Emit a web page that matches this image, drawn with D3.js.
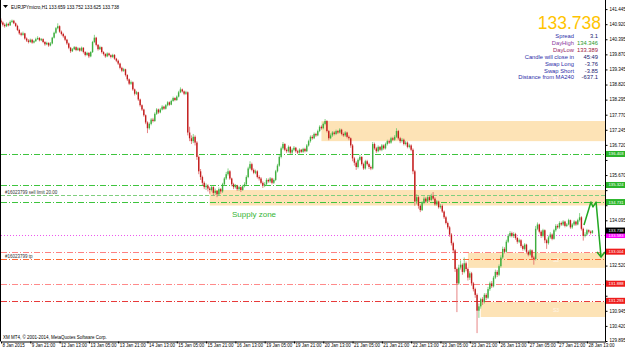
<!DOCTYPE html>
<html><head><meta charset="utf-8">
<script src="https://cdn.jsdelivr.net/npm/d3@7"></script>
<style>html,body{margin:0;padding:0;background:#fff;overflow:hidden}svg{display:block;font-family:"Liberation Sans",Arial,sans-serif}</style>
</head><body><svg id="c" width="625" height="351"></svg>
<script>
const symbolTitle = "EURJPYmicro,H1";
const lastOHLC = ["133.659", "133.752", "133.625", "133.738"];
const copyrightText = "XM MT4, © 2001-2014, MetaQuotes Software Corp.";
const firstOpen = 141.05;
const closePrices = [
140.98,140.90,140.85,140.93,140.88,141.00,141.04,140.95,140.86,140.72,
140.60,140.55,140.60,140.42,140.35,140.30,140.38,140.28,140.33,140.40,
140.44,140.36,140.40,140.30,140.22,140.27,140.18,140.25,140.45,140.62,
140.78,140.85,140.66,140.58,140.50,140.38,140.25,140.10,139.98,140.05,
140.12,140.02,140.08,140.00,140.10,139.95,139.85,139.92,139.80,139.95,
140.30,140.45,140.20,140.05,140.12,139.95,139.88,139.80,139.90,139.84,
139.78,139.85,139.72,139.65,139.55,139.40,139.30,139.35,139.15,139.00,
138.85,138.90,138.65,138.50,138.55,138.30,138.10,137.95,137.75,137.50,
137.30,137.45,137.60,137.55,137.80,137.95,137.85,137.95,138.05,137.98,
138.10,138.20,138.12,138.25,138.35,138.28,138.40,138.55,138.65,138.58,
138.50,138.55,137.15,136.95,136.85,137.00,136.80,136.30,135.80,135.60,
135.40,135.25,135.30,135.20,135.15,135.25,135.05,135.12,135.00,135.18,
135.10,135.35,135.55,135.70,135.80,135.55,135.35,135.25,135.30,135.18,
135.25,135.15,135.28,135.35,135.60,135.90,136.05,135.85,135.75,135.80,
135.60,135.55,135.40,135.30,135.35,135.50,135.45,135.55,135.40,135.50,
135.80,136.00,136.30,136.60,136.75,136.55,136.50,136.65,136.45,136.55,
136.62,136.50,136.45,136.55,136.48,136.58,136.50,136.70,136.85,137.00,
136.95,137.10,137.05,137.20,137.35,137.30,137.45,137.55,137.20,136.95,
137.05,137.15,137.10,137.20,137.15,137.25,137.10,137.05,137.15,137.00,
136.95,136.70,136.25,136.10,135.95,136.20,136.30,136.05,135.90,136.15,
136.05,135.95,135.90,136.75,136.60,136.50,136.65,136.55,136.70,136.60,
136.75,136.85,136.80,136.95,136.90,137.00,137.20,136.95,136.85,136.90,
136.75,136.80,136.65,136.70,136.55,135.80,134.75,134.90,134.60,134.45,
134.70,134.85,134.75,134.90,134.80,134.95,134.85,134.65,134.75,134.55,
134.60,134.40,134.20,134.00,133.85,133.60,133.30,133.05,132.40,131.90,
132.45,132.55,132.30,132.60,132.40,132.10,132.25,131.90,131.70,131.50,
130.95,131.10,131.35,131.25,131.50,131.40,131.70,131.90,131.80,132.10,
132.30,132.20,132.50,132.80,133.10,133.00,133.35,133.55,133.65,133.55,
133.62,133.48,133.35,133.40,133.20,133.10,133.25,133.00,132.90,133.05,
132.80,132.75,133.80,133.95,133.70,133.55,133.75,133.40,133.30,133.50,
133.60,133.45,133.75,133.90,133.85,134.00,133.95,134.05,133.90,133.95,
134.10,133.85,133.95,134.05,133.95,134.10,134.20,133.80,133.55,133.60,
133.75,133.70,133.659,133.738];
const highPrices = [
141.12,141.02,140.95,140.98,140.97,141.05,141.08,141.07,140.98,140.90,
140.76,140.64,140.66,140.62,140.46,140.40,140.42,140.41,140.37,140.45,
140.50,140.47,140.44,140.43,140.33,140.31,140.29,140.30,140.48,140.66,
140.82,140.95,140.88,140.70,140.62,140.53,140.41,140.28,140.13,140.09,
140.16,140.15,140.12,140.11,140.14,140.12,139.98,139.96,139.95,139.98,
140.34,140.55,140.48,140.23,140.17,140.14,139.98,139.91,139.94,139.93,
139.87,139.89,139.88,139.75,139.69,139.58,139.44,139.40,139.37,139.18,
139.03,138.96,138.93,138.68,138.60,138.57,138.33,138.13,137.98,137.78,
137.54,137.50,137.65,137.66,137.85,138.00,137.98,138.00,138.10,138.08,
138.14,138.24,138.23,138.29,138.40,138.38,138.44,138.60,138.72,138.68,
138.61,138.60,138.58,137.35,137.05,137.10,137.05,136.85,136.35,135.88,
135.65,135.45,135.38,135.35,135.26,135.32,135.28,135.20,135.15,135.24,
135.22,135.40,135.60,135.78,135.90,135.84,135.58,135.40,135.36,135.33,
135.30,135.28,135.33,135.42,135.66,135.96,136.15,136.10,135.90,135.86,
135.84,135.66,135.60,135.45,135.42,135.56,135.55,135.60,135.58,135.55,
135.85,136.06,136.36,136.66,136.82,136.78,136.60,136.70,136.68,136.60,
136.68,136.65,136.55,136.60,136.58,136.62,136.62,136.75,136.90,137.05,
137.06,137.15,137.14,137.25,137.40,137.40,137.50,137.62,137.58,137.24,
137.12,137.20,137.20,137.25,137.24,137.30,137.28,137.15,137.20,137.18,
137.05,136.98,136.75,136.30,136.15,136.25,136.38,136.33,136.10,136.20,
136.20,136.10,136.00,136.82,136.80,136.65,136.70,136.68,136.75,136.74,
136.80,136.90,136.90,137.00,137.00,137.06,137.30,137.24,137.00,136.96,
136.94,136.86,136.84,136.76,136.74,136.60,135.85,135.00,134.95,134.65,
134.76,134.92,134.90,134.96,134.95,135.02,135.08,134.90,134.80,134.78,
134.66,134.65,134.44,134.25,134.05,133.90,133.65,133.35,133.10,132.45,
132.55,132.70,132.60,132.80,132.66,132.45,132.32,132.30,131.95,131.75,
131.55,131.20,131.40,131.42,131.56,131.56,131.78,131.96,131.98,132.16,
132.38,132.36,132.56,132.88,133.18,133.16,133.42,133.62,133.72,133.70,
133.68,133.66,133.52,133.46,133.44,133.25,133.30,133.28,133.05,133.10,
133.08,132.86,133.90,134.02,133.98,133.75,133.80,133.78,133.45,133.56,
133.68,133.64,133.80,133.96,133.96,134.06,134.05,134.10,134.08,134.00,
134.15,134.12,134.00,134.10,134.08,134.15,134.346,134.24,133.84,133.68,
133.80,133.78,133.74,133.752];
const lowPrices = [
140.93,140.84,140.80,140.82,140.84,140.86,140.96,140.92,140.82,140.68,
140.55,140.50,140.52,140.38,140.30,140.25,140.27,140.24,140.25,140.30,
140.37,140.32,140.33,140.26,140.17,140.19,140.13,140.15,140.22,140.42,
140.58,140.74,140.62,140.53,140.45,140.33,140.20,140.05,139.92,139.95,
140.02,139.98,139.99,139.96,139.97,139.90,139.80,139.82,139.74,139.77,
139.92,140.26,140.15,140.00,140.02,139.90,139.83,139.75,139.77,139.80,
139.73,139.74,139.68,139.60,139.50,139.35,139.25,139.26,139.10,138.94,
138.80,138.81,138.60,138.44,138.46,138.25,138.05,137.90,137.70,137.44,
137.13,137.25,137.40,137.50,137.52,137.76,137.80,137.82,137.92,137.94,
137.95,138.06,138.08,138.10,138.22,138.24,138.25,138.37,138.52,138.54,
138.45,138.46,137.05,136.85,136.75,136.78,136.70,136.20,135.70,135.50,
135.32,135.18,135.15,135.10,135.02,135.10,134.95,134.98,134.90,134.96,
135.02,135.05,135.30,135.50,135.65,135.50,135.28,135.18,135.20,135.12,
135.12,135.08,135.12,135.24,135.32,135.56,135.86,135.80,135.70,135.70,
135.55,135.48,135.35,135.22,135.25,135.30,135.40,135.40,135.35,135.36,
135.46,135.76,135.96,136.25,136.55,136.50,136.44,136.45,136.40,136.40,
136.50,136.45,136.40,136.42,136.44,136.44,136.46,136.47,136.66,136.80,
136.90,136.92,137.00,137.02,137.16,137.25,137.26,137.40,137.15,136.88,
136.92,137.00,137.05,137.06,137.10,137.12,137.05,137.00,137.00,136.95,
136.88,136.62,136.15,136.00,135.85,135.90,136.15,136.00,135.85,135.86,
136.00,135.88,135.84,135.86,136.55,136.44,136.46,136.50,136.50,136.55,
136.56,136.70,136.75,136.76,136.85,136.86,136.96,136.90,136.78,136.80,
136.70,136.70,136.60,136.60,136.50,135.70,134.60,134.65,134.50,134.38,
134.42,134.66,134.70,134.72,134.74,134.76,134.80,134.60,134.60,134.50,
134.50,134.35,134.14,133.95,133.78,133.52,133.22,132.95,132.30,130.90,
131.85,132.38,132.20,132.25,132.32,132.00,132.02,131.82,131.62,131.40,
130.17,130.70,131.02,131.15,131.20,131.32,131.36,131.64,131.74,131.76,
132.05,132.12,132.15,132.45,132.75,132.94,132.96,133.30,133.50,133.50,
133.48,133.42,133.28,133.30,133.14,133.04,133.05,132.94,132.84,132.86,
132.74,132.55,132.70,133.75,133.64,133.48,133.50,133.30,133.10,133.25,
133.45,133.40,133.42,133.70,133.80,133.80,133.90,133.90,133.85,133.86,
133.92,133.80,133.80,133.90,133.90,133.92,134.05,133.74,133.389,133.50,
133.56,133.64,133.60,133.625];
const timeLabels = ["8 Jan 2015","9 Jan 21:00","12 Jan 13:00","13 Jan 05:00","13 Jan 21:00","14 Jan 13:00","15 Jan 05:00","15 Jan 21:00","16 Jan 13:00","19 Jan 05:00","19 Jan 21:00","20 Jan 13:00","21 Jan 05:00","21 Jan 21:00","22 Jan 13:00","23 Jan 05:00","23 Jan 21:00","26 Jan 13:00","27 Jan 05:00","27 Jan 21:00","28 Jan 13:00"];
const barsPerTimeLabel = 16;
const priceTicks = [129.895,130.420,130.945,131.470,131.995,132.520,133.045,133.570,134.095,134.620,135.145,135.670,136.195,136.720,137.245,137.770,138.295,138.820,139.345,139.870,140.395,140.920,141.445];
const levelPrices = [136.403, 135.324, 134.975, 134.731, 133.583, 133.004, 132.750, 131.888, 131.293];
const levelNotes = ["", "", "#16023799 sell limit 20.00", "", "", "", "#16023799 tp", "", ""];
const bidPrice = 133.738;
const zoneTop = [137.55, 135.15, 132.96, 131.25];
const zoneBottom = [136.85, 134.61, 132.44, 130.73];
const zoneStartBar = [175, 114, 255, 262];
const zoneNames = ["", "S1", "S2", "S3"];
const zoneNamePrice = [137.2, 134.85, 132.7, 130.99];
const supplyLabel = "Supply zone";
const arrowBars = [318.4, 322.2, 323.3, 325.0, 327.7];
const arrowPrices = [133.93, 134.73, 134.56, 134.73, 132.82];
const infoLabels = ["Spread","DayHigh","DayLow","Candle will close in","Swap Long","Swap Short","Distance from MA240"];
const infoValues = ["3.1","134.346","133.389","45:49","-3.76","-3.85","-637.1"];

// ---------- styles (kept apart from the data) ----------
const levelStyle = [
  {c:"#3ec43e", d:"6,2,1,2", box:"#2bb52b"},
  {c:"#3ec43e", d:"6,2,1,2", box:"#2bb52b"},
  {c:"#7fcf7f", d:"4,2", box:null},
  {c:"#3ec43e", d:"6,2,1,2", box:"#2bb52b"},
  {c:"#ee55ee", d:"1,2", box:"#ff00ff"},
  {c:"#ff8080", d:"6,2,1,2", box:"#ee1c1c"},
  {c:"#ff6a33", d:"6,2,1,2", box:null},
  {c:"#ff8a8a", d:"6,2,1,2", box:"#ee1c1c"},
  {c:"#e83a3a", d:"6,2,1,2", box:"#ee1c1c"}
];
const infoLabelColors = ["#2c2ca8","#8a3aa0","#9a2a6a","#2c2ca8","#2c2ca8","#2c2ca8","#2c2ca8"];
const infoValueColors = ["#1a1a70","#2a9a2a","#a02040","#1a1a70","#1a1a70","#1a1a70","#1a1a70"];

const svg = d3.select("#c");
const W = 625, H = 351, axisX = 605.5, axisY = 341.5;
const barStep = 1.831;
const x = d3.scaleLinear().domain([0, (axisX - 1) / barStep]).range([1, axisX]);
const y = d3.scaleLinear().domain([129.895, 141.445]).range([341, 9.1]);
const fmt3 = d3.format(".3f");

svg.append("rect").attr("width", W).attr("height", H).attr("fill", "#fff");

// zones
svg.append("g").selectAll("rect").data(zoneTop).join("rect")
  .attr("x", (d, i) => x(zoneStartBar[i]))
  .attr("y", d => y(d))
  .attr("width", (d, i) => axisX - x(zoneStartBar[i]))
  .attr("height", (d, i) => y(zoneBottom[i]) - y(d))
  .attr("fill", "#fde3b6");
svg.append("g").selectAll("text").data(zoneNames).join("text")
  .attr("x", 553).attr("y", (d, i) => y(zoneNamePrice[i]) + 2)
  .attr("font-size", 5).attr("fill", "#fff6ea").text(d => d);

// level lines
svg.append("g").selectAll("line").data(levelPrices).join("line")
  .attr("x1", 1).attr("x2", axisX)
  .attr("y1", d => Math.round(y(d)) + 0.5).attr("y2", d => Math.round(y(d)) + 0.5)
  .attr("stroke", (d, i) => levelStyle[i].c).attr("stroke-width", 1)
  .attr("stroke-dasharray", (d, i) => levelStyle[i].d);
svg.append("g").selectAll("text").data(levelPrices).join("text")
  .attr("x", 5).attr("y", d => Math.round(y(d)) - 1.5)
  .attr("font-size", 4.5).attr("fill", "#333").text((d, i) => levelNotes[i]);

// candles
const bars = closePrices.map((c, i) => ({
  i, o: i === 0 ? firstOpen : closePrices[i - 1], c, h: highPrices[i], l: lowPrices[i]
}));
const cg = svg.append("g");
cg.selectAll("line").data(bars).join("line")
  .attr("x1", d => x(d.i)).attr("x2", d => x(d.i))
  .attr("y1", d => y(d.h)).attr("y2", d => y(d.l))
  .attr("stroke", d => d.c >= d.o ? "#6cc86c" : "#e06464").attr("stroke-width", 0.8);
cg.selectAll("rect").data(bars).join("rect")
  .attr("x", d => x(d.i) - 0.7).attr("width", 1.4)
  .attr("y", d => y(Math.max(d.o, d.c)))
  .attr("height", d => Math.max(0.8, Math.abs(y(d.o) - y(d.c))))
  .attr("fill", d => d.c >= d.o ? "#3fae3f" : "#c21d1d");

// supply zone text
svg.append("text").attr("x", 232).attr("y", 217).attr("font-size", 8)
  .attr("fill", "#35b535").text(supplyLabel);

// green arrow
const arrowPts = arrowBars.map((b, i) => [x(b), y(arrowPrices[i])]);
svg.append("path").attr("d", d3.line()(arrowPts)).attr("fill", "none")
  .attr("stroke", "#22a822").attr("stroke-width", 1.5).attr("stroke-linejoin", "round");
const end = arrowPts[arrowPts.length - 1];
svg.append("path").attr("d", d3.line()([[end[0] - 4, end[1] - 5], end, [end[0] + 4, end[1] - 5]]))
  .attr("fill", "none").attr("stroke", "#22a822").attr("stroke-width", 1.5);

// frame
svg.append("line").attr("x1", 0.5).attr("x2", 0.5).attr("y1", 0).attr("y2", axisY).attr("stroke", "#000");

// right-side price boxes (data)
const boxes = levelPrices.map((p, i) => ({p, col: levelStyle[i].box})).filter(d => d.col);
boxes.push({p: bidPrice, col: "#000"});

// right axis (tick labels hidden where a price box covers them)
const ra = svg.append("g").attr("transform", `translate(${axisX},0)`)
  .call(d3.axisRight(y).tickValues(priceTicks).tickSize(2).tickPadding(2).tickFormat(fmt3));
ra.select(".domain").remove();
ra.selectAll(".tick text")
  .attr("font-size", 4.5).attr("font-family", "Liberation Sans, Arial, sans-serif").attr("fill", "#000")
  .attr("dy", "0.3em")
  .attr("display", d => boxes.some(b => Math.abs(y(b.p) - y(d)) < 6) ? "none" : null);
ra.selectAll(".tick text").filter(d => d === priceTicks[0]).attr("dy", "0.05em");
svg.append("line").attr("x1", axisX).attr("x2", axisX).attr("y1", 0).attr("y2", axisY).attr("stroke", "#000");

// bottom axis
const tickBars = timeLabels.map((t, k) => k * barsPerTimeLabel);
const ba = svg.append("g").attr("transform", `translate(0,${axisY})`)
  .call(d3.axisBottom(x).tickValues(tickBars).tickSize(2).tickSizeOuter(0).tickFormat((d, k) => timeLabels[k]));
ba.selectAll(".tick line").attr("stroke", "#000");
ba.selectAll("text").attr("font-size", 4.5).attr("text-anchor", "start").attr("dx", 1).attr("dy", 0.8)
  .attr("font-family", "Liberation Sans, Arial, sans-serif").attr("fill", "#000");
ba.select(".domain").attr("stroke", "#000");

const bg = svg.append("g");
bg.selectAll("rect").data(boxes).join("rect")
  .attr("x", axisX + 0.5).attr("y", d => y(d.p) - 3).attr("width", 19).attr("height", 6).attr("fill", d => d.col);
bg.selectAll("text").data(boxes).join("text")
  .attr("x", axisX + 3).attr("y", d => y(d.p) + 1.5).attr("font-size", 4.2).attr("fill", "#fff")
  .text(d => fmt3(d.p));

// header
svg.append("path").attr("d", "M3,5 L8,5 L5.5,8 Z").attr("fill", "#000");
svg.append("text").attr("x", 11).attr("y", 8.5).attr("font-size", 4.6).attr("fill", "#000")
  .text(symbolTitle + "  " + lastOHLC.join(" "));

// copyright
svg.append("text").attr("x", 3).attr("y", 339).attr("font-size", 4.5).attr("fill", "#000").text(copyrightText);

// info panel
svg.append("text").attr("x", 601).attr("y", 28.5).attr("text-anchor", "end")
  .attr("font-size", 17.5).attr("fill", "#ffc400").text(fmt3(bidPrice));
const ip = svg.append("g").attr("font-size", 5.8);
ip.selectAll("text.l").data(infoLabels).join("text").attr("class", "l")
  .attr("x", 574).attr("y", (d, i) => 38 + i * 6.9).attr("text-anchor", "end")
  .attr("fill", (d, i) => infoLabelColors[i]).text(d => d);
ip.selectAll("text.v").data(infoValues).join("text").attr("class", "v")
  .attr("x", 598).attr("y", (d, i) => 38 + i * 6.9).attr("text-anchor", "end")
  .attr("fill", (d, i) => infoValueColors[i]).text(d => d);
</script></body></html>
